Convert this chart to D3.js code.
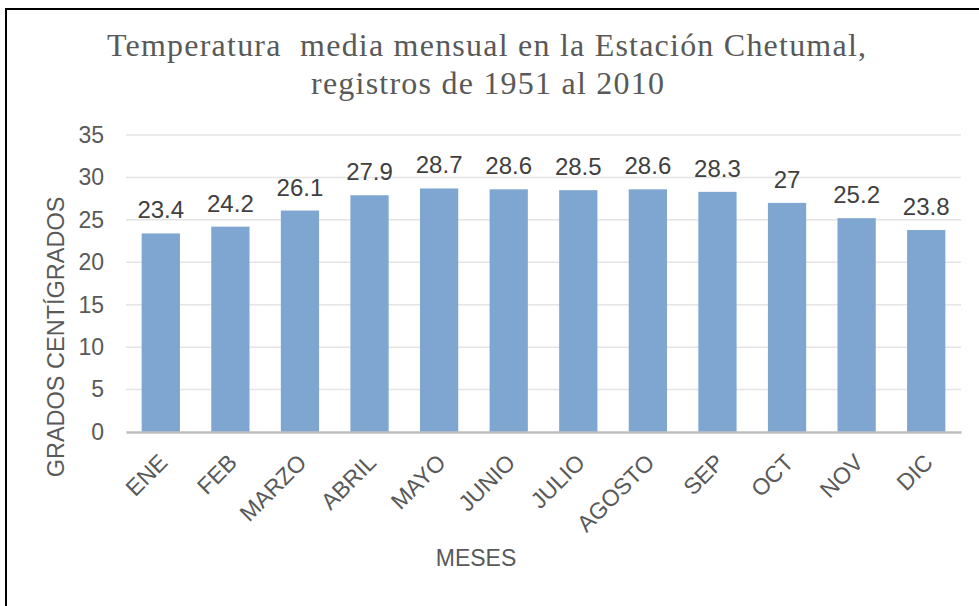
<!DOCTYPE html>
<html>
<head>
<meta charset="utf-8">
<script src="https://cdn.jsdelivr.net/npm/d3@7"></script>
<style>
   body { margin: 0; background: #fff; }
   svg { display: block; }
</style>
</head>
<body>
<svg class="chart" width="979" height="606"></svg>
<script>
// DATA
var months = ['ENE', 'FEB', 'MARZO', 'ABRIL', 'MAYO', 'JUNIO', 'JULIO', 'AGOSTO', 'SEP', 'OCT', 'NOV', 'DIC'];
var temps = [23.4, 24.2, 26.1, 27.9, 28.7, 28.6, 28.5, 28.6, 28.3, 27, 25.2, 23.8];
var yTicks = [0, 5, 10, 15, 20, 25, 30, 35];
var titleLines = ['Temperatura  media mensual en la Estación Chetumal,', 'registros de 1951 al 2010'];

var svg = d3.select('svg.chart');

var bounds = {left: 126, right: 961, top: 135, bottom: 432};

// outer frame (right and bottom sides run off the picture)
svg.append('rect')
   .attr('x', 6).attr('y', 9)
   .attr('width', 1000).attr('height', 700)
   .attr('fill', 'none')
   .attr('stroke', '#000')
   .attr('stroke-width', 2);

var x = d3.scaleBand()
   .domain(months)
   .range([bounds.left, bounds.right])
   .paddingInner(0.45)
   .paddingOuter(0.225);

var y = d3.scaleLinear()
   .domain([0, 35])
   .range([bounds.bottom, bounds.top]);

// gridlines
svg.append('g')
   .selectAll('line')
   .data(yTicks.slice(1))
   .enter().append('line')
   .attr('x1', bounds.left).attr('x2', bounds.right)
   .attr('y1', function (d) { return y(d); })
   .attr('y2', function (d) { return y(d); })
   .attr('stroke', '#e4e4e4')
   .attr('stroke-width', 1.5);

// y axis labels
var yAxis = d3.axisLeft(y).tickValues(yTicks).tickSize(0).tickPadding(0);
var yAxisGroup = svg.append('g')
   .attr('transform', 'translate(104,0)')
   .call(yAxis);
yAxisGroup.select('.domain').remove();
yAxisGroup.selectAll('text')
   .attr('fill', '#595959')
   .style('font', '23px "Liberation Sans", Arial, sans-serif');

// bars
svg.append('g')
   .selectAll('rect')
   .data(temps)
   .enter().append('rect')
   .attr('x', function (d, i) { return x(months[i]); })
   .attr('y', function (d) { return y(d); })
   .attr('width', x.bandwidth())
   .attr('height', function (d) { return y(0) - y(d); })
   .attr('fill', '#7fa6d0');

// data labels
svg.append('g')
   .selectAll('text')
   .data(temps)
   .enter().append('text')
   .attr('x', function (d, i) { return x(months[i]) + x.bandwidth() / 2; })
   .attr('y', function (d) { return y(d) - 15; })
   .attr('text-anchor', 'middle')
   .attr('fill', '#404040')
   .style('font', '24px "Liberation Sans", Arial, sans-serif')
   .text(function (d) { return d; });

// x axis
var xAxis = d3.axisBottom(x).tickSize(0).tickPadding(0);
var xAxisGroup = svg.append('g')
   .attr('transform', 'translate(0,' + bounds.bottom + ')')
   .call(xAxis);
xAxisGroup.select('.domain')
   .attr('stroke', '#bfbfbf')
   .attr('stroke-width', 2.5);
xAxisGroup.selectAll('.tick text')
   .attr('text-anchor', 'end')
   .attr('y', 0)
   .attr('dy', 0)
   .attr('transform', 'translate(8,32) rotate(-45)')
   .attr('fill', '#595959')
   .style('font', '23px "Liberation Sans", Arial, sans-serif');

// axis titles
svg.append('text')
   .attr('transform', 'translate(64,337) rotate(-90)')
   .attr('text-anchor', 'middle')
   .attr('fill', '#595959')
   .style('font', '23.5px "Liberation Sans", Arial, sans-serif')
   .text('GRADOS CENTÍGRADOS');

svg.append('text')
   .attr('x', 476)
   .attr('y', 566)
   .attr('text-anchor', 'middle')
   .attr('fill', '#595959')
   .style('font', '23px "Liberation Sans", Arial, sans-serif')
   .text('MESES');

// chart title
var titleLayout = [{x1: 107, x2: 866, y: 56}, {x1: 311, x2: 664, y: 94}];
svg.append('g')
   .selectAll('text')
   .data(titleLines)
   .enter().append('text')
   .attr('x', function (d, i) { return titleLayout[i].x1; })
   .attr('y', function (d, i) { return titleLayout[i].y; })
   .attr('textLength', function (d, i) { return titleLayout[i].x2 - titleLayout[i].x1; })
   .attr('lengthAdjust', 'spacing')
   .attr('fill', '#595959')
   .style('font', '32px "Liberation Serif", "Times New Roman", serif')
   .style('white-space', 'pre')
   .text(function (d) { return d; });
</script>
</body>
</html>
